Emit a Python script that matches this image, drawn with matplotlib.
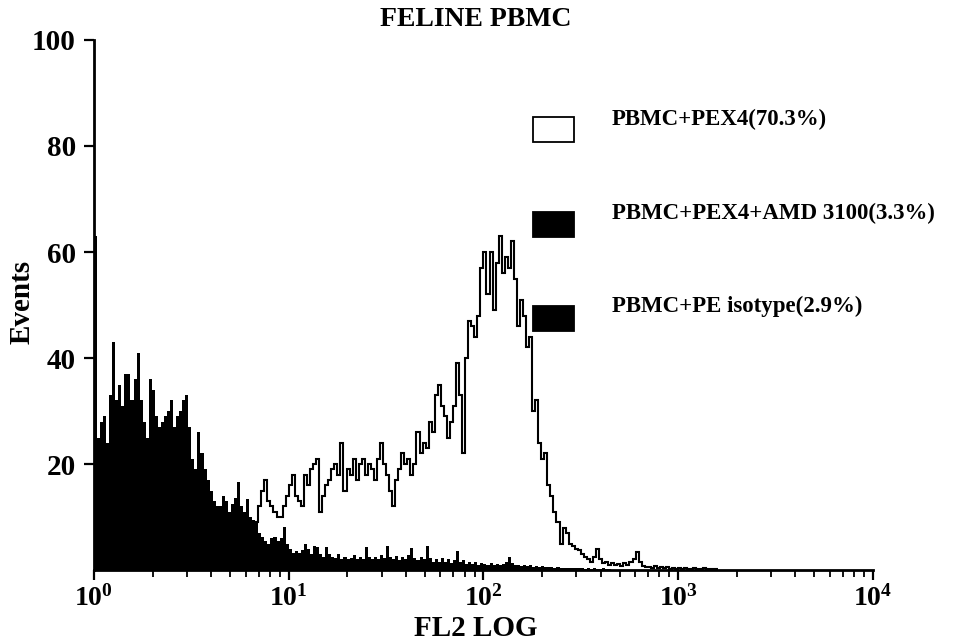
import numpy as np
import matplotlib
matplotlib.use("Agg")
import matplotlib.pyplot as plt
from matplotlib.patches import Rectangle

plt.rcParams['font.family'] = ['Liberation Serif', 'DejaVu Serif']
plt.rcParams['font.weight'] = 'bold'
plt.rcParams['mathtext.fontset'] = 'custom'
plt.rcParams['mathtext.rm'] = 'Liberation Serif:bold'
plt.rcParams['mathtext.bf'] = 'Liberation Serif:bold'
plt.rcParams['mathtext.it'] = 'Liberation Serif:bold'

# ---------------- data (counts per channel, 256 log channels over 4 decades) -------------
title = "FELINE PBMC"
x_label = "FL2 LOG"
y_label = "Events"
legend_labels = ["PBMC+PEX4(70.3%)", "PBMC+PEX4+AMD 3100(3.3%)", "PBMC+PE isotype(2.9%)"]

n_channels = 256
n_decades = 4

# PBMC+PEX4 (open histogram), starting at channel 50
pex4_start = 50
pex4 = [4, 6, 8, 9, 12, 15, 17, 13, 12, 11,
        10, 10, 12, 14, 16, 18, 14, 13, 12, 18,
        16, 19, 20, 21, 11, 14, 16, 17, 19, 20,
        18, 24, 15, 19, 18, 21, 17, 20, 21, 18,
        20, 19, 17, 21, 24, 20, 18, 15, 12, 17,
        19, 22, 20, 21, 18, 20, 26, 22, 24, 23,
        28, 26, 33, 35, 31, 29, 25, 28, 31, 39,
        33, 22, 40, 47, 46, 44, 48, 57, 60, 52,
        60, 49, 58, 63, 56, 59, 57, 62, 55, 46,
        51, 48, 42, 44, 30, 32, 24, 21, 22, 16,
        14, 11, 9, 5, 8, 7, 5, 4.5, 4, 3.8,
        3, 2.5, 2, 1.5, 2.5, 4, 2, 1.3, 1.5, 1,
        1.3, 1, 1.2, 0.8, 1.3, 1, 1.5, 2, 3.4, 1.5,
        0.8, 0.5, 0.6, 0.3, 0.8, 0.4, 0.5, 0.3, 0.6, 0.2,
        0.4, 0.2, 0.3, 0.2, 0.3, 0.2, 0.2, 0.3, 0.2, 0.2,
        0.3, 0.2, 0.2, 0.2, 0.1]

# PBMC+PEX4+AMD 3100 (black filled), starting at channel 0
amd3100 = [63, 25, 28, 29, 20, 33, 43, 32, 35, 28,
           37, 37, 30, 36, 41, 30, 26, 23, 36, 34,
           28, 27, 28, 29, 29, 32, 25, 29, 30, 32,
           33, 25, 19, 18, 26, 22, 19, 17, 14, 13,
           12, 11.5, 14, 13, 11, 12.5, 13.5, 16.6, 12, 11,
           13.4, 10, 9.5, 9, 7, 6.3, 5.5, 5, 6, 6.3,
           5.5, 6, 8.2, 5, 4, 3.2, 3.5, 3.2, 3.8, 5,
           4, 3, 4.5, 4.4, 3, 2.5, 4.4, 3, 2.5, 2.2,
           3, 2, 2.5, 2, 2.2, 2.8, 2, 2.5, 2, 4.4,
           2.5, 2, 2.4, 2, 2.8, 2.2, 4.6, 2.5, 2, 2.6,
           1.8, 2.4, 2, 2.8, 4.2, 2.2, 1.8, 2.5, 2, 4.6,
           2.2, 1.6, 2, 1.5, 2.2, 1.6, 2, 1.4, 1.8, 3.5,
           1.5, 1.8, 1.2, 1.6, 1.2, 1.5, 1.0, 1.4, 1.2, 1.0,
           1.3, 1.0, 1.2, 0.9, 1.1, 1.5, 2.5, 1.3, 0.9, 1.0,
           0.8, 1.0, 0.7, 0.9, 0.6, 0.8, 0.6, 0.7, 0.5, 0.6,
           0.5, 0.4, 0.5, 0.4, 0.3, 0.4, 0.3, 0.4, 0.3, 0.3,
           0.3, 0.2, 0.3, 0.2, 0.3, 0.2, 0.2, 0.3, 0.2, 0.2]

# PBMC+PE isotype (black filled), starting at channel 0
isotype = [60, 22, 25, 27, 24, 30, 38, 30, 33, 31,
           34, 35, 32, 33, 37, 32, 28, 25, 33, 32,
           29, 26, 27, 27, 30, 30, 27, 28, 28, 30,
           31, 27, 21, 19, 24, 21, 18, 16, 15, 13,
           12, 12, 13, 12, 10, 11, 12, 15, 11, 10,
           12, 9, 8, 8, 6.5, 6, 5, 4.5, 5.5, 5,
           5, 5.5, 7, 4.5, 3.5, 3, 3, 2.8, 3.2, 4,
           3.5, 2.6, 3.8, 3.5, 2.6, 2.2, 3.6, 2.6, 2.2, 2,
           2.6, 1.8, 2.2, 1.8, 2, 2.4, 1.8, 2.2, 1.8, 3.6,
           2.2, 1.8, 2, 1.8, 2.4, 2, 3.8, 2.2, 1.8, 2.2,
           1.6, 2, 1.8, 2.4, 3.6, 2, 1.6, 2.2, 1.8, 3.8,
           2, 1.4, 1.8, 1.3, 2, 1.4, 1.8, 1.2, 1.6, 3,
           1.3, 1.6, 1.0, 1.4, 1.0, 1.3, 0.9, 1.2, 1.0, 0.9,
           1.1, 0.9, 1.0, 0.8, 1.0, 1.3, 2.0, 1.1, 0.8, 0.9,
           0.7, 0.8, 0.6, 0.8, 0.5, 0.7, 0.5, 0.6, 0.4, 0.5]

y_ticks = [20, 40, 60, 80, 100]
x_ticks = [1, 10, 100, 1000, 10000]
x_tick_labels = [r"$\mathbf{10^{0}}$", r"$\mathbf{10^{1}}$", r"$\mathbf{10^{2}}$",
                 r"$\mathbf{10^{3}}$", r"$\mathbf{10^{4}}$"]

# ---------------- figure ---------------------------------------------------------------
edges = 10 ** (np.arange(n_channels + 1) * n_decades / n_channels)

fig = plt.figure(figsize=(9.54, 6.43), dpi=100)
ax = fig.add_axes([0.0985, 0.1135, 0.8165, 0.8243])

ax.stairs(amd3100, edges[:len(amd3100) + 1], baseline=0, fill=True, color='black', lw=0)
ax.stairs(isotype, edges[:len(isotype) + 1], baseline=0, fill=True, color='black', lw=0)
ax.stairs(pex4, edges[pex4_start:pex4_start + len(pex4) + 1], baseline=None,
          fill=False, color='black', lw=1.5)

ax.set_xscale('log')
ax.set_xlim(1, 10000)
ax.set_ylim(0, 100)

for s in ['top', 'right']:
    ax.spines[s].set_visible(False)
for s in ['left', 'bottom']:
    ax.spines[s].set_linewidth(2.0)

ax.set_yticks(y_ticks)
ax.set_yticklabels([str(v) for v in y_ticks], fontsize=21, fontweight='bold')
ax.set_xticks(x_ticks)
ax.set_xticklabels(x_tick_labels, fontsize=20)
ax.tick_params(axis='y', direction='out', length=7, width=1.6, pad=6)
ax.tick_params(axis='x', which='major', direction='out', length=7, width=1.6, pad=4)
ax.tick_params(axis='x', which='minor', direction='out', length=5, width=1.3)

fig.text(0.499, 1 - 26 / 643, title, fontsize=20, fontweight='bold',
         ha='center', va='baseline')
fig.text(0.499, 1 - 636 / 643, x_label, fontsize=21, fontweight='bold',
         ha='center', va='baseline')
fig.text(0.023, 0.53, y_label, fontsize=21, fontweight='bold', ha='center', va='center',
         rotation=90)

# legend boxes and labels
box_fc = ['white', 'black', 'black']
box_y = [0.7792, 0.6314, 0.4852]
text_y = [0.8149, 0.6687, 0.5241]
for fc, by, ty, lab in zip(box_fc, box_y, text_y, legend_labels):
    fig.patches.append(Rectangle((0.5587, by), 0.043, 0.0389, transform=fig.transFigure,
                                 facecolor=fc, edgecolor='black', lw=1.3))
    fig.text(0.6415, ty, lab, fontsize=16.5, fontweight='bold', ha='left', va='center')

fig.savefig("out.png", dpi=100)
